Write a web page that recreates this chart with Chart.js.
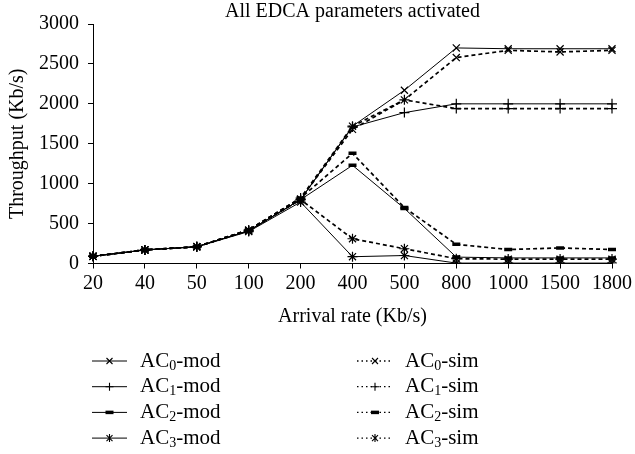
<!DOCTYPE html>
<html>
<head>
<meta charset="utf-8">
<title>All EDCA parameters activated</title>
<script src="https://cdn.jsdelivr.net/npm/chart.js@4.4.1/dist/chart.umd.min.js"></script>
<style>
  html, body { margin: 0; padding: 0; background: #fff; }
  #wrap { width: 635px; height: 454px; }
</style>
</head>
<body>
<div id="wrap"><canvas id="edcaChart" width="635" height="454"></canvas></div>
<script>
"use strict"
// arrival rates (Kb/s) on the x axis
const rates = ["20", "40", "50", "100", "200", "400", "500", "800", "1000", "1500", "1800"];
const yTicks = [0, 500, 1000, 1500, 2000, 2500, 3000];

// throughput (Kb/s), model
const ac0Mod = [90, 170, 210, 410, 800, 1720, 2170, 2700, 2690, 2690, 2690];
const ac1Mod = [90, 170, 210, 410, 800, 1710, 1890, 2000, 2000, 2000, 2000];
const ac2Mod = [90, 170, 210, 410, 800, 1230, 690, 80, 70, 70, 70];
const ac3Mod = [90, 170, 210, 400, 770, 85, 100, 5, 5, 5, 5];

// throughput (Kb/s), simulation
const ac0Sim = [90, 170, 210, 420, 810, 1680, 2050, 2580, 2670, 2650, 2670];
const ac1Sim = [90, 170, 210, 420, 820, 1720, 2050, 1940, 1940, 1940, 1940];
const ac2Sim = [90, 170, 210, 420, 820, 1380, 700, 240, 175, 195, 175];
const ac3Sim = [90, 170, 210, 410, 800, 310, 185, 60, 55, 55, 55];

const serif = "'Liberation Serif', 'DejaVu Serif', serif";

function makeSet(ac, kind, data, style) {
    const sim = kind === "sim";
    return {
        label: "AC" + ac + "-" + kind,
        ac: ac,
        kind: kind,
        data: data,
        borderColor: "#000",
        backgroundColor: "#000",
        borderWidth: sim ? 1.7 : 1,
        borderDash: sim ? [4, 3] : [],
        pointStyle: style,
        pointRadius: style === "line" ? 4 : 5,
        pointBorderWidth: style === "line" ? 3.5 : 1.2,
        pointBorderColor: "#000",
        pointBackgroundColor: "#000",
        tension: 0,
        fill: false
    };
}

const datasets = [
    makeSet(0, "mod", ac0Mod, "crossRot"),
    makeSet(1, "mod", ac1Mod, "cross"),
    makeSet(2, "mod", ac2Mod, "line"),
    makeSet(3, "mod", ac3Mod, "star"),
    makeSet(0, "sim", ac0Sim, "crossRot"),
    makeSet(1, "sim", ac1Sim, "cross"),
    makeSet(2, "sim", ac2Sim, "line"),
    makeSet(3, "sim", ac3Sim, "star")
];

// small marker drawing for the legend
function drawMark(ctx, style, x, y) {
    ctx.save();
    ctx.strokeStyle = "#000";
    ctx.setLineDash([]);
    ctx.beginPath();
    const r = 4;
    if (style === "line") {
        ctx.lineWidth = 3.5;
        ctx.moveTo(x - r, y);
        ctx.lineTo(x + r, y);
    } else {
        ctx.lineWidth = 1.1;
        if (style === "cross" || style === "star") {
            ctx.moveTo(x, y - r); ctx.lineTo(x, y + r);
            if (style === "cross") { ctx.moveTo(x - r, y); ctx.lineTo(x + r, y); }
        }
        if (style === "crossRot" || style === "star") {
            const d = r * 0.75;
            ctx.moveTo(x - d, y - d); ctx.lineTo(x + d, y + d);
            ctx.moveTo(x - d, y + d); ctx.lineTo(x + d, y - d);
        }
    }
    ctx.stroke();
    ctx.restore();
}

// two column legend under the x axis title
const acLegend = {
    id: "acLegend",
    afterDraw(chart) {
        const ctx = chart.ctx;
        chart.data.datasets.forEach(function (ds) {
            const sim = ds.kind === "sim";
            const y = 361 + ds.ac * 25.7;
            const x0 = sim ? 357 : 92;
            const x1 = sim ? 393 : 127;
            const tx = sim ? 405 : 140;

            ctx.save();
            ctx.strokeStyle = "#000";
            ctx.lineWidth = sim ? 1.3 : 1;
            ctx.setLineDash(sim ? [1.5, 3] : []);
            ctx.beginPath();
            ctx.moveTo(x0, y);
            ctx.lineTo(x1, y);
            ctx.stroke();
            ctx.restore();
            drawMark(ctx, ds.pointStyle, (x0 + x1) / 2, y);

            ctx.save();
            ctx.fillStyle = "#000";
            ctx.textBaseline = "middle";
            ctx.textAlign = "left";
            ctx.font = "21px " + serif;
            ctx.fillText("AC", tx, y);
            let w = ctx.measureText("AC").width;
            ctx.font = "14px " + serif;
            ctx.fillText(String(ds.ac), tx + w, y + 5);
            w += ctx.measureText(String(ds.ac)).width;
            ctx.font = "21px " + serif;
            ctx.fillText("-" + ds.kind, tx + w, y);
            ctx.restore();
        });
    }
};

const ctx = document.getElementById("edcaChart").getContext("2d");

const config = {
    type: "line",
    data: { labels: rates, datasets: datasets },
    options: {
        responsive: false,
        animation: false,
        devicePixelRatio: 1,
        layout: { padding: { left: 0, right: 23, top: 0, bottom: 125 } },
        plugins: {
            legend: { display: false },
            tooltip: { enabled: false },
            title: {
                display: true,
                text: "All EDCA parameters activated",
                color: "#000",
                fullSize: false,
                font: { family: serif, size: 20, weight: "normal", lineHeight: 1.2 },
                padding: { top: 0, bottom: 0 }
            }
        },
        scales: {
            x: {
                type: "category",
                offset: false,
                afterFit: function (scale) { scale.height = 65.5; },
                border: { display: true, color: "#000", width: 1 },
                grid: { display: true, drawOnChartArea: false, drawTicks: true, tickLength: 5, color: "#000" },
                ticks: { color: "#000", padding: 3, maxRotation: 0, autoSkip: false, font: { family: serif, size: 20 } },
                title: {
                    display: true,
                    text: "Arrival rate (Kb/s)",
                    color: "#000",
                    font: { family: serif, size: 20, lineHeight: 1.2 },
                    padding: { top: 0, bottom: 0 }
                }
            },
            y: {
                min: 0,
                max: 3000,
                afterFit: function (scale) { scale.width = 93; },
                afterBuildTicks: function (scale) {
                    scale.ticks = yTicks.map(function (v) { return { value: v }; });
                },
                border: { display: true, color: "#000", width: 1 },
                grid: { display: true, drawOnChartArea: false, drawTicks: true, tickLength: 5, color: "#000" },
                ticks: {
                    color: "#000",
                    padding: 9,
                    font: { family: serif, size: 20 },
                    callback: function (value) { return String(value); }
                },
                title: {
                    display: true,
                    text: "Throughput (Kb/s)",
                    color: "#000",
                    font: { family: serif, size: 20, lineHeight: 1.2 },
                    padding: { top: 6, bottom: 0 }
                }
            }
        }
    },
    plugins: [acLegend]
};

const edcaChart = new Chart(ctx, config);
</script>
</body>
</html>
